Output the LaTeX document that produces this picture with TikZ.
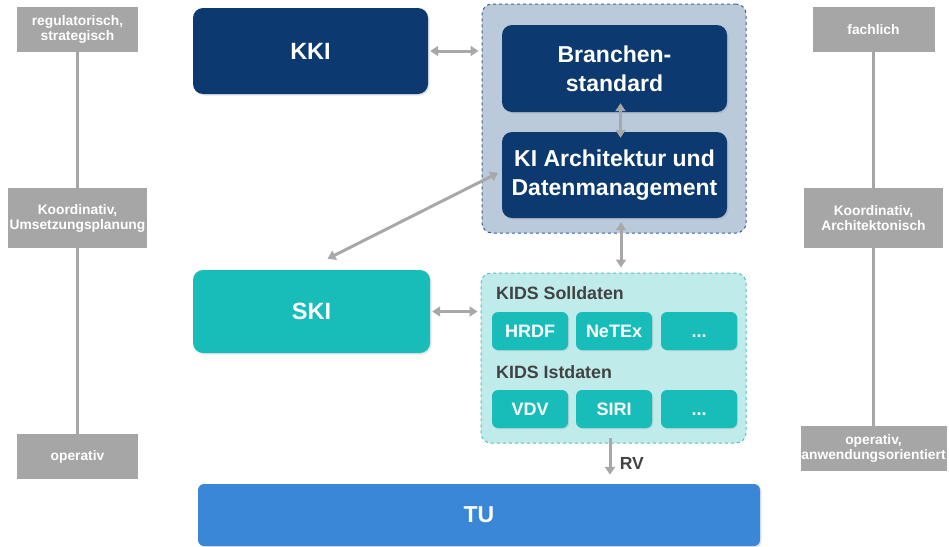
\documentclass[tikz,border=0pt]{standalone}
\usepackage{fontspec}
\setmainfont{Liberation Sans}
\usepackage{xcolor}
\usetikzlibrary{arrows.meta,shadows}

\definecolor{navy}{RGB}{12,58,112}
\definecolor{teal}{RGB}{24,189,185}
\definecolor{tublue}{RGB}{58,135,216}
\definecolor{levelgray}{RGB}{166,166,166}
\definecolor{arrowgray}{RGB}{168,168,168}
\definecolor{stdfill}{RGB}{187,202,219}
\definecolor{stdborder}{RGB}{62,96,146}
\definecolor{kidsfill}{RGB}{192,235,235}
\definecolor{kidsborder}{RGB}{66,200,196}
\definecolor{labelgray}{RGB}{66,66,66}

\begin{document}
\begin{tikzpicture}[x=1pt, y=-1pt,
    levelbox/.style={fill=levelgray, text=white, inner sep=0pt, align=center,
        font=\bfseries\fontsize{13.8}{15}\selectfont},
    levelline/.style={draw=levelgray, line width=3pt},
    bigbox/.style={rounded corners=10pt, text=white, inner sep=0pt, align=center,
        font=\bfseries\fontsize{23}{29}\selectfont,
        drop shadow={shadow xshift=1.5pt, shadow yshift=-1.5pt, opacity=0.2}},
    groupbox/.style={rounded corners=10pt, dashed, line width=1pt, inner sep=0pt},
    formatbox/.style={rounded corners=6pt, fill=teal, text=white, inner sep=0pt,
        minimum width=76pt, minimum height=38pt, text height=12.5pt, text depth=0pt,
        font=\bfseries\fontsize{18}{20}\selectfont,
        drop shadow={shadow xshift=1pt, shadow yshift=-1pt, opacity=0.2}},
    grouplabel/.style={text=labelgray, anchor=west, inner sep=0pt,
        font=\bfseries\fontsize{17.8}{19}\selectfont},
    link/.style={{Triangle[length=8pt,width=10pt]}-{Triangle[length=8pt,width=10pt]},
        draw=arrowgray, line width=3pt},
    flow/.style={-{Triangle[length=8pt,width=10pt]}, draw=arrowgray, line width=3pt}]
    \useasboundingbox (0,0) rectangle (949,546);

    % Ebenen links
    \node[levelbox, minimum width=121pt, minimum height=45pt] (lreg) at (77.5,29.5) {regulatorisch,\\strategisch};
    \node[levelbox, minimum width=139pt, minimum height=60pt] (lkoord) at (77.5,218) {Koordinativ,\\Umsetzungsplanung};
    \node[levelbox, minimum width=121pt, minimum height=45pt] (lop) at (77.5,456.5) {operativ};
    \draw[levelline] (lreg) -- (lkoord);
    \draw[levelline] (lkoord) -- (lop);

    % Ebenen rechts
    \node[levelbox, minimum width=122pt, minimum height=45pt] (rfach) at (873.5,29.5) {fachlich};
    \node[levelbox, minimum width=139pt, minimum height=60pt] (rkoord) at (873.5,218) {Koordinativ,\\Architektonisch};
    \node[levelbox, minimum width=146pt, minimum height=45pt] (rop) at (873.5,448.5) {operativ,\\anwendungsorientiert};
    \draw[levelline] (rfach) -- (rkoord);
    \draw[levelline] (rkoord) -- (rop);

    % Gruppen
    \node[groupbox, fill=stdfill, draw=stdborder, minimum width=264pt, minimum height=229pt] (stdgroup) at (614,118.5) {};
    \node[groupbox, fill=kidsfill, draw=kidsborder, minimum width=265pt, minimum height=170pt] (kids) at (613.5,358) {};

    \node[bigbox, fill=navy, minimum width=235pt, minimum height=86pt, font=\bfseries\fontsize{23.5}{25}\selectfont] (kki) at (310.5,51) {KKI};
    \node[bigbox, fill=navy, minimum width=225pt, minimum height=87pt] (branche) at (614.5,68.5) {Branchen-\\standard};
    \node[bigbox, fill=navy, minimum width=225pt, minimum height=86pt] (kiarch) at (614.5,175) {KI Architektur und\\Datenmanagement};
    \node[bigbox, fill=teal, minimum width=237pt, minimum height=83pt, font=\bfseries\fontsize{23.5}{25}\selectfont] (ski) at (311.5,311.5) {SKI};
    \node[bigbox, fill=tublue, rounded corners=6pt, minimum width=562pt, minimum height=62pt,
        font=\bfseries\fontsize{23}{25}\selectfont] (tu) at (479,515) {TU};

    % KIDS
    \node[grouplabel] (soll) at (496,293) {KIDS Solldaten};
    \node[formatbox] (hrdf) at (530,331) {HRDF};
    \node[formatbox] (netex) at (614,331) {NeTEx};
    \node[formatbox] (sollmore) at (699,331) {...};
    \node[grouplabel] (ist) at (496,372) {KIDS Istdaten};
    \node[formatbox] (vdv) at (530,409) {VDV};
    \node[formatbox] (siri) at (614,409) {SIRI};
    \node[formatbox] (istmore) at (699,409) {...};

    % Verbindungen
    \draw[link, shorten <=2pt, shorten >=3pt] (kki.east) -- (stdgroup.west |- kki.east);
    \draw[link, shorten <=-9pt, shorten >=-6pt] ([xshift=6pt]branche.south) -- ([xshift=6pt]kiarch.north);
    \draw[link, shorten >=4pt] ([xshift=16pt, yshift=11pt]ski.north) -- ([yshift=4pt]kiarch.west);
    \draw[link, shorten <=4pt, shorten >=5pt] ([xshift=6.5pt]kiarch.south) -- ([xshift=6.5pt]kiarch.south |- kids.north);
    \draw[link, shorten <=2pt, shorten >=3pt] (ski.east) -- (kids.west |- ski.east);
    \draw[flow, shorten <=-6pt, shorten >=9pt] ([xshift=-3.5pt]kids.south) -- ([xshift=-3.5pt]kids.south |- tu.north)
        node[midway, right=5pt, text=labelgray, font=\bfseries\fontsize{17.5}{19}\selectfont] {RV};
\end{tikzpicture}
\end{document}
